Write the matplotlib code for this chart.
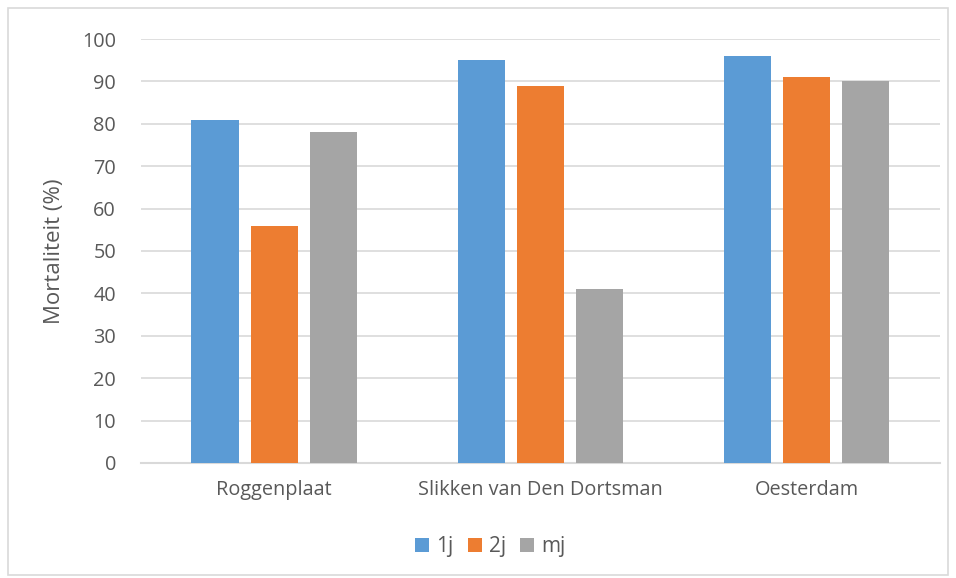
import matplotlib.pyplot as plt
import matplotlib.patches as patches
import numpy as np

# Data
locations = ['Roggenplaat', 'Slikken van Den Dortsman', 'Oesterdam']
series = ['1j', '2j', 'mj']
val_1j = [81, 95, 96]
val_2j = [56, 89, 91]
val_mj = [78, 41, 90]

colors = ['#5b9bd5', '#ed7d31', '#a5a5a5']
text_color = '#595959'
grid_color = '#d9d9d9'

plt.rcParams['font.family'] = ['Open Sans', 'DejaVu Sans']

fig = plt.figure(figsize=(9.56, 5.78), dpi=100)
ax = fig.add_axes([0.1475, 0.199, 0.8355, 0.7335])

x = np.arange(len(locations))
width = 0.177
step = 0.222

for i, (vals, name) in enumerate(zip([val_1j, val_2j, val_mj], series)):
    ax.bar(x + (i - 1) * step, vals, width, color=colors[i], label=name, zorder=3)

ax.set_xlim(-0.5, 2.5)
ax.set_ylim(0, 100)
ax.set_yticks(range(0, 101, 10))
ax.set_xticks(x)
ax.set_xticklabels(locations)
ax.tick_params(axis='both', length=0, colors=text_color, labelsize=14.3)
ax.tick_params(axis='y', pad=18)
ax.tick_params(axis='x', pad=12)
ax.grid(axis='y', color=grid_color, linewidth=1.2, zorder=0)
for side in ['top', 'right', 'left']:
    ax.spines[side].set_visible(False)
ax.spines['bottom'].set_color(grid_color)
ax.spines['bottom'].set_linewidth(1.5)

ax.set_ylabel('Mortaliteit (%)', color=text_color, fontsize=16, labelpad=12)

ax.legend(loc='center', bbox_to_anchor=(0.513, 0.054), bbox_transform=fig.transFigure,
          ncol=3, frameon=False, fontsize=15, labelcolor=text_color,
          handlelength=0.67, handleheight=0.67, handletextpad=0.33, columnspacing=0.7)

# Outer chart border
fig.patches.append(patches.Rectangle((8 / 956, 3 / 578), 940 / 956, 567 / 578,
                                     transform=fig.transFigure, fill=False,
                                     edgecolor=grid_color, linewidth=1.2))

plt.savefig('out.png', dpi=100)
